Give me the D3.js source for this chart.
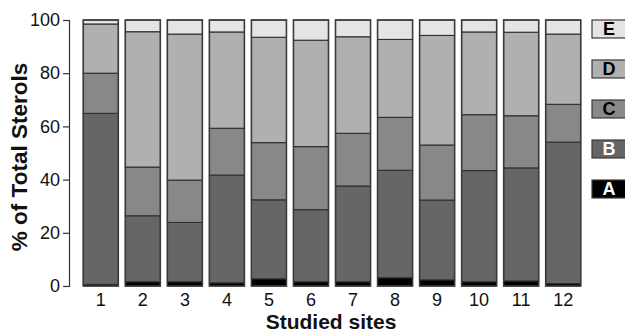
<!DOCTYPE html>
<html>
<head>
<meta charset="utf-8">
<script src="https://cdn.jsdelivr.net/npm/d3@7"></script>
<style>
  html, body { margin: 0; padding: 0; background: #fff; }
  svg { display: block; }
  text { font-family: "Liberation Sans", Arial, sans-serif; }
</style>
</head>
<body>
<svg id="chart" width="625" height="334"></svg>
<script>
const sites = ["1","2","3","4","5","6","7","8","9","10","11","12"];
const seriesKeys = ["A","B","C","D","E"];
const valuesA = [0.6, 1.6, 1.6, 1.2, 2.7, 1.6, 1.6, 3.1, 2.3, 1.6, 1.9, 0.9];
const valuesB = [64.3, 24.8, 22.3, 40.5, 29.7, 27.1, 36.0, 40.4, 30.0, 41.8, 42.5, 53.2];
const valuesC = [15.1, 18.3, 15.9, 17.6, 21.5, 23.7, 19.8, 19.9, 20.7, 21.0, 19.6, 14.2];
const valuesD = [18.5, 50.9, 54.9, 36.2, 39.6, 40.0, 36.3, 29.3, 41.2, 31.1, 31.4, 26.4];
const valuesE = [1.5, 4.4, 5.3, 4.5, 6.5, 7.6, 6.3, 7.3, 5.8, 4.5, 4.6, 5.3];
const yTicks = [0, 20, 40, 60, 80, 100];
const colors = {A: "#000000", B: "#666666", C: "#888888", D: "#b0b0b0", E: "#e4e4e4"};
const legendTextColors = {A: "#ffffff", B: "#ffffff", C: "#000000", D: "#000000", E: "#000000"};

const seriesValues = {A: valuesA, B: valuesB, C: valuesC, D: valuesD, E: valuesE};
const table = sites.map((s, i) => {
  const row = {site: s};
  seriesKeys.forEach(k => row[k] = seriesValues[k][i]);
  return row;
});

const svg = d3.select("#chart");
const x = d3.scaleBand().domain(sites).range([79.8, 584.2]).paddingInner(7/42).paddingOuter(0.0833);
const y = d3.scaleLinear().domain([0, 100]).range([286, 20]);

const stack = d3.stack().keys(seriesKeys)(table);

svg.append("g").selectAll("g").data(stack).join("g")
  .attr("fill", d => colors[d.key])
  .selectAll("rect").data(d => d).join("rect")
  .attr("x", d => x(d.data.site))
  .attr("width", x.bandwidth())
  .attr("y", d => y(d[1]))
  .attr("height", d => y(d[0]) - y(d[1]))
  .attr("stroke", "#2e2e2e")
  .attr("stroke-width", 1.1);

// outline of each bar
svg.append("g").selectAll("rect").data(table).join("rect")
  .attr("x", d => x(d.site))
  .attr("width", x.bandwidth())
  .attr("y", y(100))
  .attr("height", y(0) - y(100))
  .attr("fill", "none")
  .attr("stroke", "#3a3a3a")
  .attr("stroke-width", 1.5);

// y axis
const yAxis = svg.append("g").attr("transform", "translate(69,0)")
  .call(d3.axisLeft(y).tickValues(yTicks).tickSize(6).tickPadding(3));
yAxis.select(".domain").attr("stroke", "#333").attr("stroke-width", 1.2);
yAxis.selectAll(".tick line").attr("stroke", "#333").attr("stroke-width", 1.2);
yAxis.selectAll(".tick text").attr("font-size", 18).attr("fill", "#111")
  .attr("font-family", "Liberation Sans, Arial, sans-serif");

// x axis labels
const xAxis = svg.append("g").attr("transform", "translate(0,287)")
  .call(d3.axisBottom(x).tickSize(0).tickPadding(6));
xAxis.select(".domain").remove();
xAxis.selectAll(".tick text").attr("font-size", 18).attr("fill", "#111")
  .attr("font-family", "Liberation Sans, Arial, sans-serif");

// axis titles
svg.append("text")
  .attr("x", 331).attr("y", 329)
  .attr("text-anchor", "middle")
  .attr("font-size", 21).attr("font-weight", "bold").attr("fill", "#111")
  .text("Studied sites");

svg.append("text")
  .attr("transform", "translate(27,157) rotate(-90)")
  .attr("text-anchor", "middle")
  .attr("font-size", 22.5).attr("font-weight", "bold").attr("fill", "#111")
  .text("% of Total Sterols");

// legend
const legendOrder = ["E","D","C","B","A"];
const lg = svg.append("g").selectAll("g").data(legendOrder).join("g")
  .attr("transform", (d, i) => `translate(592,${20 + i * 40})`);
lg.append("rect").attr("width", 34).attr("height", 18)
  .attr("fill", d => colors[d]).attr("stroke", "#3a3a3a").attr("stroke-width", 1.2);
lg.append("text").attr("x", 17).attr("y", 9).attr("dy", "0.36em")
  .attr("text-anchor", "middle").attr("font-size", 18).attr("font-weight", "bold")
  .attr("fill", d => legendTextColors[d]).text(d => d);
</script>
</body>
</html>
